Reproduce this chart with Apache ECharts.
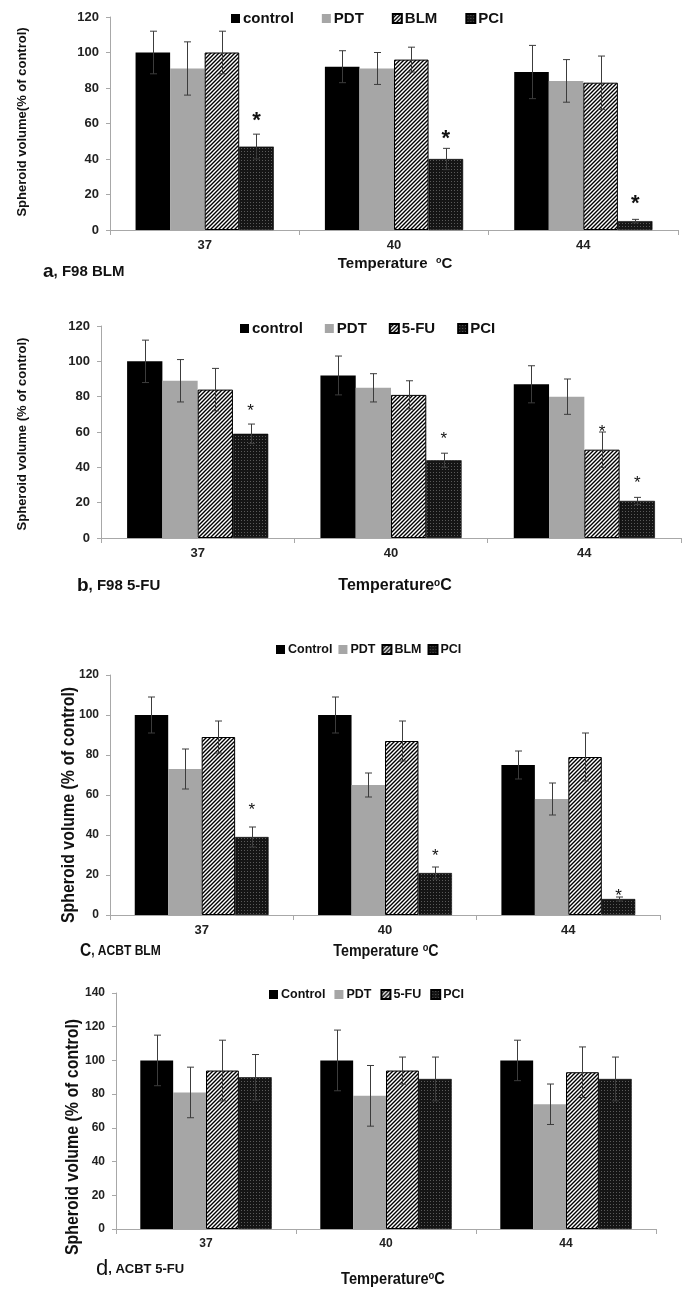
<!DOCTYPE html>
<html><head><meta charset="utf-8">
<script src="https://cdn.jsdelivr.net/npm/echarts@6/dist/echarts.min.js"></script>
<style>html,body{margin:0;padding:0;background:#fff}#c{width:698px;height:1301px}</style>
</head><body><div id="c"></div>
<script>
// ---------- data ----------
const categories = ['37', '40', '44'];

// panel a: F98 BLM
const aControl = [100, 92, 89];
const aControlErr = [12, 9, 15];
const aPDT = [91, 91, 84];
const aPDTErr = [15, 9, 12];
const aBLM = [100, 96, 83];
const aBLMErr = [12, 7, 15];
const aPCI = [47, 40, 5];
const aPCIErr = [7, 6, 1];
const aStars = [[0, 3, 64], [1, 3, 54], [2, 3, 17.5]]; // [category, series, level]

// panel b: F98 5-FU
const bControl = [100, 92, 87];
const bControlErr = [12, 11, 10.5];
const bPDT = [89, 85, 80];
const bPDTErr = [12, 8, 10];
const bFU = [84, 81, 50];
const bFUErr = [12, 8, 10];
const bPCI = [59, 44, 21];
const bPCIErr = [5.5, 4, 2];
const bStars = [[0, 3, 74], [1, 3, 58], [2, 2, 62], [2, 3, 33]];

// panel c: ACBT BLM
const cControl = [100, 100, 75];
const cControlErr = [9, 9, 7];
const cPDT = [73, 65, 58];
const cPDTErr = [10, 6, 8];
const cBLM = [89, 87, 79];
const cBLMErr = [8, 10, 12];
const cPCI = [39, 21, 8];
const cPCIErr = [5, 3, 1];
const cStars = [[0, 3, 54], [1, 3, 31], [2, 3, 11]];

// panel d: ACBT 5-FU
const dControl = [100, 100, 100];
const dControlErr = [15, 18, 12];
const dPDT = [81, 79, 74];
const dPDTErr = [15, 18, 12];
const dFU = [94, 94, 93];
const dFUErr = [18, 8, 15];
const dPCI = [90, 89, 89];
const dPCIErr = [13.5, 13, 13];
const dStars = [];

// ---------- styles ----------
const AF = "'Liberation Sans', Arial, Helvetica, sans-serif";
const NF = "'Liberation Sans Narrow', 'Arial Narrow', 'Liberation Sans', sans-serif";
const GAP = 0.27;

function hatchPattern() {
  const c = document.createElement('canvas');
  c.width = 4; c.height = 4;
  const g = c.getContext('2d');
  g.fillStyle = '#fff'; g.fillRect(0, 0, 4, 4);
  g.strokeStyle = '#000'; g.lineWidth = 1.4;
  g.beginPath();
  g.moveTo(-1, 5); g.lineTo(5, -1);
  g.moveTo(-1, 1); g.lineTo(1, -1);
  g.moveTo(3, 5); g.lineTo(5, 3);
  g.stroke();
  return c;
}
function dotPattern() {
  const c = document.createElement('canvas');
  c.width = 3; c.height = 3;
  const g = c.getContext('2d');
  g.fillStyle = '#151515'; g.fillRect(0, 0, 3, 3);
  g.fillStyle = '#5a5a5a'; g.fillRect(1, 1, 1, 1);
  return c;
}
const HATCH = { image: hatchPattern(), repeat: 'repeat' };
const DOTS = { image: dotPattern(), repeat: 'repeat' };

const styles = [
  { color: '#000' },
  { color: '#a6a6a6' },
  { color: HATCH, borderColor: '#000', borderWidth: 1 },
  { color: DOTS, borderColor: '#000', borderWidth: 0.6 }
];

// ---------- panels ----------
const panels = [
  { names: ['control', 'PDT', 'BLM', 'PCI'], vals: [aControl, aPDT, aBLM, aPCI], errs: [aControlErr, aPDTErr, aBLMErr, aPCIErr], stars: aStars,
    grid: { left: 110, right: 20, top: 17, height: 213 }, max: 120, font: AF, tickFs: 13, catFs: 13, starFs: 22, starBold: true,
    legend: { left: 231, top: 11, itemGap: 28, fontSize: 15, font: AF } },
  { names: ['control', 'PDT', '5-FU', 'PCI'], vals: [bControl, bPDT, bFU, bPCI], errs: [bControlErr, bPDTErr, bFUErr, bPCIErr], stars: bStars,
    grid: { left: 101, right: 17, top: 326, height: 212 }, max: 120, font: AF, tickFs: 13, catFs: 13, starFs: 17, starBold: false,
    legend: { left: 240, top: 321, itemGap: 22, fontSize: 15, font: AF } },
  { names: ['Control', 'PDT', 'BLM', 'PCI'], vals: [cControl, cPDT, cBLM, cPCI], errs: [cControlErr, cPDTErr, cBLMErr, cPCIErr], stars: cStars,
    grid: { left: 110, right: 38, top: 675, height: 240 }, max: 120, font: NF, tickFs: 12, catFs: 13, starFs: 17, starBold: false,
    legend: { left: 276, top: 643, itemGap: 6, fontSize: 12.5, font: NF } },
  { names: ['Control', 'PDT', '5-FU', 'PCI'], vals: [dControl, dPDT, dFU, dPCI], errs: [dControlErr, dPDTErr, dFUErr, dPCIErr], stars: dStars,
    grid: { left: 116, right: 42, top: 993, height: 236 }, max: 140, font: NF, tickFs: 12, catFs: 12, starFs: 17, starBold: false,
    legend: { left: 269, top: 988, itemGap: 9, fontSize: 12.5, font: NF } }
];

function barX(api, cat, si) {
  const band = api.size([1, 0])[0];
  const gw = band * (1 - GAP), bw = gw / 4;
  const base = api.coord([cat, 0]);
  return base[0] - gw / 2 + (si + 0.5) * bw;
}
function errRender(params, api) {
  const cat = api.value(0), si = api.value(1);
  const x = Math.round(barX(api, cat, si)) + 0.5;
  const y1 = api.coord([cat, api.value(2)])[1];
  const y2 = api.coord([cat, api.value(3)])[1];
  const st = { stroke: '#3c3c3c', lineWidth: 1 };
  return { type: 'group', children: [
    { type: 'line', shape: { x1: x, y1: y1, x2: x, y2: y2 }, style: st },
    { type: 'line', shape: { x1: x - 3.5, y1: y2, x2: x + 3.5, y2: y2 }, style: st },
    { type: 'line', shape: { x1: x - 3.5, y1: y1, x2: x + 3.5, y2: y1 }, style: st }
  ] };
}
function starRender(fs, bold) {
  return function (params, api) {
    const cat = api.value(0), si = api.value(1);
    const x = barX(api, cat, si);
    const y = api.coord([cat, api.value(2)])[1];
    return { type: 'text', x: x, y: y + fs * 0.22,
      style: { text: '*', fontSize: fs, fontWeight: bold ? 'bold' : 'normal', fontFamily: AF, fill: '#111', align: 'center', verticalAlign: 'middle' } };
  };
}

const grids = [], xAxes = [], yAxes = [], series = [], legends = [];
panels.forEach((p, gi) => {
  grids.push(p.grid);
  xAxes.push({
    type: 'category', gridIndex: gi, data: categories,
    axisLine: { lineStyle: { color: '#a8a8a8', width: 1 } },
    axisTick: { show: true, length: 5, lineStyle: { color: '#a8a8a8' } },
    axisLabel: { margin: 9, fontSize: p.catFs, fontWeight: 'bold', fontFamily: p.font, color: '#222' }
  });
  yAxes.push({
    type: 'value', gridIndex: gi, min: 0, max: p.max, interval: 20,
    axisLine: { show: true, lineStyle: { color: '#a8a8a8', width: 1 } },
    axisTick: { show: true, length: 4, lineStyle: { color: '#a8a8a8' } },
    splitLine: { show: false },
    axisLabel: { margin: 11, fontSize: p.tickFs, fontWeight: 'bold', fontFamily: p.font, color: '#222' }
  });
  p.names.forEach((n, si) => {
    series.push({
      type: 'bar', name: n, xAxisIndex: gi, yAxisIndex: gi, data: p.vals[si],
      barGap: '0%', barCategoryGap: (GAP * 100) + '%', itemStyle: styles[si], silent: true, animation: false
    });
  });
  const errData = [];
  p.vals.forEach((arr, si) => arr.forEach((v, ci) => errData.push([ci, si, v - p.errs[si][ci], v + p.errs[si][ci]])));
  series.push({ type: 'custom', xAxisIndex: gi, yAxisIndex: gi, data: errData, renderItem: errRender, z: 5, silent: true, animation: false,
    encode: { x: 0, y: [2, 3] } });
  if (p.stars.length) {
    series.push({ type: 'custom', xAxisIndex: gi, yAxisIndex: gi, data: p.stars, renderItem: starRender(p.starFs, p.starBold), z: 6, silent: true, animation: false,
      encode: { x: 0, y: 2 } });
  }
  legends.push({
    left: p.legend.left, top: p.legend.top, padding: 0, itemGap: p.legend.itemGap,
    itemWidth: 9, itemHeight: 9, icon: 'rect', selectedMode: false,
    data: p.names,
    textStyle: { fontSize: p.legend.fontSize, fontWeight: 'bold', fontFamily: p.legend.font, color: '#111', padding: [0, 0, 0, -2] }
  });
});

function txt(x, y, text, fs, font, sx) {
  return { type: 'text', x: x, y: y, scaleX: sx || 1, silent: true,
    style: { text: text, fontSize: fs, fontWeight: 'bold', fontFamily: font, fill: '#111', align: 'center', verticalAlign: 'middle' } };
}
function rot(x, y, text, fs, font, sx) {
  const t = txt(x, y, text, fs, font, sx);
  t.rotation = Math.PI / 2;
  return t;
}
function temp(x, y, fs, font, sep, sx) {
  return { type: 'text', x: x, y: y, scaleX: sx || 1, silent: true,
    style: { text: '{m|Temperature' + sep + '}{s|o}{m|C}', align: 'center', verticalAlign: 'middle',
      rich: { m: { fontSize: fs, fontWeight: 'bold', fontFamily: font, fill: '#111' },
              s: { fontSize: Math.round(fs * 0.62), fontWeight: 'bold', fontFamily: font, fill: '#111', verticalAlign: 'top' } } } };
}
function panelLabel(x, y, big, bigFs, bigWeight, bigFont, rest, fs, font, sx) {
  return { type: 'text', x: x, y: y, scaleX: sx || 1, silent: true,
    style: { text: '{b|' + big + '}{m|' + rest + '}', align: 'left', verticalAlign: 'middle',
      rich: { b: { fontSize: bigFs, fontWeight: bigWeight, fontFamily: bigFont, fill: '#111' },
              m: { fontSize: fs, fontWeight: 'bold', fontFamily: font, fill: '#111' } } } };
}

const graphics = [
  rot(22, 122, 'Spheroid volume(% of control)', 13, AF),
  rot(22, 434, 'Spheroid volume (% of control)', 13, AF),
  rot(69, 805, 'Spheroid volume (% of control)', 17.5, NF, 0.91),
  rot(73, 1137, 'Spheroid volume (% of control)', 17.5, NF, 0.91),
  temp(395, 264, 15, AF, '  '),
  temp(395, 586, 16, AF, ''),
  temp(386, 951, 17, NF, ' ', 0.84),
  temp(393, 1279, 17, NF, '', 0.86),
  panelLabel(43, 272, 'a', 19, 'bold', AF, ', F98 BLM', 15, AF),
  panelLabel(77, 586, 'b', 19, 'bold', AF, ', F98 5-FU', 15, AF),
  panelLabel(80, 951, 'C', 18, 'bold', NF, ', ACBT BLM', 14, NF, 0.86),
  panelLabel(96, 1269, 'd', 22, 'normal', AF, ', ACBT 5-FU', 13, AF)
];

const chart = echarts.init(document.getElementById('c'), null, { renderer: 'canvas' });
chart.setOption({
  animation: false,
  backgroundColor: '#fff',
  grid: grids, xAxis: xAxes, yAxis: yAxes, series: series, legend: legends,
  graphic: graphics
});
</script></body></html>
